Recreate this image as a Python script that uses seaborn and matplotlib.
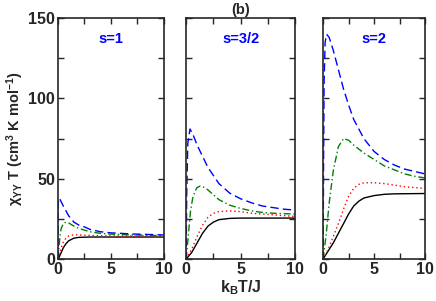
import matplotlib
matplotlib.use('Agg')
import matplotlib.pyplot as plt
import seaborn as sns
from matplotlib.ticker import MultipleLocator

# curves, one panel per spin value
spins = ["s=1", "s=3/2", "s=2"]

# s = 1
x1_black = [0, 0.1, 0.2, 0.3, 0.5, 0.75, 1, 1.5, 2, 3, 5, 10]
y1_black = [0, 1, 2.5, 4, 7, 9.5, 11.3, 13, 13.5, 13.7, 13.7, 13.7]
x1_red = [0, 0.1, 0.2, 0.3, 0.5, 0.75, 1, 1.5, 2, 3, 4, 5, 10]
y1_red = [0, 2, 4.5, 7, 10.5, 13, 14.3, 15.1, 15, 14.7, 14.5, 14.4, 14.2]
x1_green = [0, 0.1, 0.2, 0.3, 0.5, 0.75, 1, 1.5, 2, 3, 4, 5, 7, 10]
y1_green = [0, 8, 15, 19, 22, 23, 22.5, 20.5, 19, 17, 16, 15.5, 15, 14.5]
x1_blue = [0, 0.02, 0.1, 0.2, 0.5, 1, 1.5, 2, 2.5, 3, 4, 5, 7, 10]
y1_blue = [0, 35, 38, 37, 33, 27, 23, 21, 20, 18.5, 17, 16.3, 15.6, 15]

# s = 3/2
x2_black = [0, 0.5, 1, 1.5, 2, 2.5, 3, 4, 5, 10]
y2_black = [0, 4, 10, 16, 20.5, 23, 24.5, 25.3, 25.5, 25.5]
x2_red = [0, 0.5, 1, 1.5, 2, 2.5, 3, 4, 5, 6, 8, 10]
y2_red = [0, 6, 14, 21, 26, 28.5, 29.5, 30, 29.5, 28.5, 27.5, 26.5]
x2_green = [0, 0.2, 0.4, 0.6, 0.8, 1.0, 1.3, 1.7, 2, 2.5, 3, 4, 5, 6, 7, 8, 10]
y2_green = [0, 15, 30, 38, 42, 44.5, 45.5, 44.5, 43, 40, 37, 33.5, 31.5, 30, 29, 28.5, 28]
x2_blue = [0, 0.05, 0.15, 0.35, 0.6, 1, 1.5, 2, 2.5, 3, 4, 5, 6, 7, 8, 9, 10]
y2_blue = [0, 40, 72, 81, 78, 71, 64, 57, 52, 47, 41, 37.5, 35, 33, 32, 31, 30.5]

# s = 2
x3_black = [0, 0.5, 1, 1.5, 2, 2.5, 3, 3.5, 4, 5, 6, 7, 10]
y3_black = [0, 5, 10, 16, 22, 28, 33, 36, 38, 39.5, 40.3, 40.6, 40.8]
x3_red = [0, 0.5, 1, 1.5, 2, 2.5, 3, 3.5, 4, 5, 6, 7, 8, 9, 10]
y3_red = [0, 6, 14, 22, 31, 39, 44, 46.5, 47.5, 47.5, 47, 46, 45, 44.5, 44]
x3_green = [0, 0.3, 0.6, 1, 1.5, 2, 2.5, 3, 4, 5, 6, 7, 8, 9, 10]
y3_green = [0, 15, 35, 55, 70, 75, 74, 71, 66, 62, 58, 55.5, 53, 51.5, 50.5]
x3_blue = [0, 0.05, 0.1, 0.2, 0.35, 0.6, 1, 1.5, 2, 2.5, 3, 4, 5, 6, 7, 8, 9, 10]
y3_blue = [0, 60, 110, 135, 140, 138, 130, 118, 106, 96, 87, 75, 67, 62, 58.5, 56, 54.5, 53]

panels = [
    [(x1_black, y1_black), (x1_red, y1_red), (x1_green, y1_green), (x1_blue, y1_blue)],
    [(x2_black, y2_black), (x2_red, y2_red), (x2_green, y2_green), (x2_blue, y2_blue)],
    [(x3_black, y3_black), (x3_red, y3_red), (x3_green, y3_green), (x3_blue, y3_blue)],
]
colors = ["black", "red", "green", "blue"]
styles = ["-", (0, (1, 2)), (0, (5, 2, 1, 2)), (0, (6, 3))]

sns.set_style("ticks")
plt.rcParams['font.family'] = ['Liberation Sans', 'DejaVu Sans']
plt.rcParams['font.weight'] = 'bold'
plt.rcParams['mathtext.fontset'] = 'custom'
plt.rcParams['mathtext.rm'] = 'Liberation Sans:bold'
plt.rcParams['mathtext.it'] = 'Liberation Sans'
plt.rcParams['mathtext.bf'] = 'Liberation Sans:bold'

fig = plt.figure(figsize=(4.36, 3.01), dpi=100)
lefts = [0.133, 0.427, 0.741]
widths = [0.243, 0.25, 0.234]
axes = []
for i in range(3):
    ax = fig.add_axes([lefts[i], 0.1395, widths[i], 0.80])
    axes.append(ax)
    for (xs, ys), c, ls in zip(panels[i], colors, styles):
        sns.lineplot(x=xs, y=ys, ax=ax, color=c, linestyle=ls, linewidth=1.0)
    ax.set_xlim(0, 10)
    ax.set_ylim(0, 150)
    ax.xaxis.set_major_locator(MultipleLocator(5))
    ax.xaxis.set_minor_locator(MultipleLocator(2.5))
    ax.yaxis.set_major_locator(MultipleLocator(50))
    ax.yaxis.set_minor_locator(MultipleLocator(25))
    ax.tick_params(which='both', direction='in', top=True, right=True, width=1.0)
    ax.tick_params(which='major', length=4, labelsize=11.5, pad=2)
    ax.tick_params(which='minor', length=4)
    for sp in ax.spines.values():
        sp.set_linewidth(1.2)
    for lab in ax.get_xticklabels() + ax.get_yticklabels():
        lab.set_fontweight('bold')
    if i > 0:
        ax.set_yticklabels([])
    ax.text(5.0, 137, spins[i], color='blue', fontsize=10.5, fontweight='bold',
            ha='center', va='center')

axes[0].set_ylabel(r"$\chi_{YY}$ T (cm$^{\mathrm{3}}$ K mol$^{\mathrm{-1}}$)",
                   fontsize=10.5, fontweight='bold', labelpad=2)
axes[1].set_xlabel(r"k$_{\mathrm{B}}$T/J", fontsize=11.5, fontweight='bold', labelpad=1)
axes[1].set_title("(b)", fontsize=10.5, fontweight='bold', pad=3)

plt.savefig("out.png", dpi=100)
plt.close()
